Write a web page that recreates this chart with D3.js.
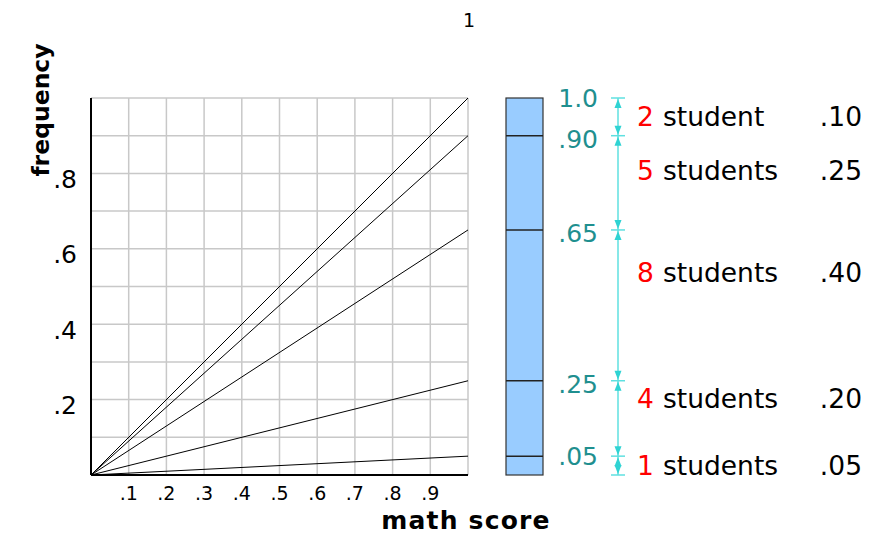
<!DOCTYPE html>
<html><head><meta charset="utf-8">
<script src="https://cdn.jsdelivr.net/npm/d3@7"></script>
<style>body{margin:0;background:#fff}svg{display:block}text{font-family:"DejaVu Sans",Verdana,sans-serif}</style>
</head><body><svg id="c" width="874" height="533"></svg>
<script>
// data
const counts = [2, 5, 8, 4, 1];
const nouns = ["student", "students", "students", "students", "students"];
const freqLabels = [".10", ".25", ".40", ".20", ".05"];
const freqs = [0.10, 0.25, 0.40, 0.20, 0.05];
const cumulative = [1.0, 0.90, 0.65, 0.25, 0.05];
const cumLabels = ["1.0", ".90", ".65", ".25", ".05"];
const rowLabelAt = [0.950, 0.809, 0.536, 0.204, 0.024];
const xTicks = [.1,.2,.3,.4,.5,.6,.7,.8,.9];
const xTickLabels = [".1",".2",".3",".4",".5",".6",".7",".8",".9"];
const yTicks = [.2,.4,.6,.8];
const yTickLabels = [".2",".4",".6",".8"];
const gridVals = [.1,.2,.3,.4,.5,.6,.7,.8,.9,1.0];

const svg = d3.select("#c");
const x = d3.scaleLinear().domain([0,1]).range([91,468]);
const y = d3.scaleLinear().domain([0,1]).range([475,98]);

// grid
svg.append("g").selectAll("line").data(gridVals).join("line")
  .attr("x1", d=>x(d)).attr("x2", d=>x(d)).attr("y1", y(0)).attr("y2", y(1))
  .attr("stroke","#c8c8c8").attr("stroke-width",1.5);
svg.append("g").selectAll("line").data(gridVals).join("line")
  .attr("y1", d=>y(d)).attr("y2", d=>y(d)).attr("x1", x(0)).attr("x2", x(1))
  .attr("stroke","#c8c8c8").attr("stroke-width",1.5);

// axes
svg.append("line").attr("x1",x(0)).attr("x2",x(0)).attr("y1",y(0)).attr("y2",y(1)).attr("stroke","#000").attr("stroke-width",2);
svg.append("line").attr("x1",x(0)).attr("x2",x(1)).attr("y1",y(0)).attr("y2",y(0)).attr("stroke","#000").attr("stroke-width",2);

// lines from origin
svg.append("g").selectAll("line").data(cumulative).join("line")
  .attr("x1",x(0)).attr("y1",y(0)).attr("x2",x(1)).attr("y2",d=>y(d))
  .attr("stroke","#000").attr("stroke-width",1);

// tick labels
svg.append("g").selectAll("text").data(xTicks).join("text")
  .attr("x",d=>x(d)).attr("y",y(0)+18).attr("text-anchor","middle").attr("dominant-baseline","central")
  .attr("font-size",19).text((d,i)=>xTickLabels[i]);
svg.append("g").selectAll("text").data(yTicks).join("text")
  .attr("x",x(0)-14).attr("y",d=>y(d)+6).attr("text-anchor","end").attr("dominant-baseline","central")
  .attr("font-size",25).text((d,i)=>yTickLabels[i]);
svg.append("text").attr("x",x(1)+1).attr("y",20).attr("text-anchor","middle").attr("dominant-baseline","central")
  .attr("font-size",19).text("1");

// titles
svg.append("text").attr("transform","translate(41,110) rotate(-90)").attr("text-anchor","middle")
  .attr("dominant-baseline","central").attr("font-weight","bold").attr("font-size",23.5).text("frequency");
svg.append("text").attr("x",466).attr("y",520).attr("text-anchor","middle").attr("dominant-baseline","central")
  .attr("font-weight","bold").attr("font-size",25).attr("letter-spacing",1.2).text("math score");

// stacked bar
const bx = 506, bw = 37;
svg.append("rect").attr("x",bx).attr("y",y(1)).attr("width",bw).attr("height",y(0)-y(1))
  .attr("fill","#99ccff").attr("stroke","#333").attr("stroke-width",1.2);
svg.append("g").selectAll("line").data(cumulative.slice(1)).join("line")
  .attr("x1",bx).attr("x2",bx+bw).attr("y1",d=>y(d)).attr("y2",d=>y(d))
  .attr("stroke","#222").attr("stroke-width",1.5);

// cumulative labels
svg.append("g").selectAll("text").data(cumulative).join("text")
  .attr("x",598).attr("y",d=>y(d)+ (d===1||d===0.05 ? 0 : 4)).attr("text-anchor","end").attr("dominant-baseline","central")
  .attr("font-size",25).attr("fill","#1f8f8f").text((d,i)=>cumLabels[i]);

// cyan measurement
const ax = 618, cyan = "#2fd3d3";
const bounds = cumulative.concat([0]);
svg.append("line").attr("x1",ax).attr("x2",ax).attr("y1",y(1)).attr("y2",y(0)).attr("stroke","#5fe0e0").attr("stroke-width",1.5);
svg.append("g").selectAll("line").data(bounds).join("line")
  .attr("x1",ax-7).attr("x2",ax+7).attr("y1",d=>y(d)).attr("y2",d=>y(d)).attr("stroke","#5fe0e0").attr("stroke-width",1.5);
const segs = cumulative.map((hi,i)=>({hi, lo: bounds[i+1]}));
const tri = (tipY, dir) => `M${ax},${tipY} L${ax-3.5},${tipY+dir*9} L${ax+3.5},${tipY+dir*9} Z`;
svg.append("g").selectAll("path").data(segs).join("path")
  .attr("d",d=>tri(y(d.hi)+1,1)).attr("fill",cyan);
svg.append("g").selectAll("path").data(segs).join("path")
  .attr("d",d=>tri(y(d.lo)-1,-1)).attr("fill",cyan);

// row labels
const rows = svg.append("g").selectAll("g").data(counts).join("g");
rows.append("text").attr("x",637).attr("y",(d,i)=>y(rowLabelAt[i])).attr("dominant-baseline","central")
  .attr("font-size",26.5).attr("fill","#ff0000").text(d=>d);
rows.append("text").attr("x",663).attr("y",(d,i)=>y(rowLabelAt[i])).attr("dominant-baseline","central")
  .attr("font-size",26.5).attr("fill","#000").text((d,i)=>nouns[i]);
rows.append("text").attr("x",862).attr("y",(d,i)=>y(rowLabelAt[i])).attr("text-anchor","end").attr("dominant-baseline","central")
  .attr("font-size",26.5).attr("fill","#000").text((d,i)=>freqLabels[i]);
</script></body></html>
